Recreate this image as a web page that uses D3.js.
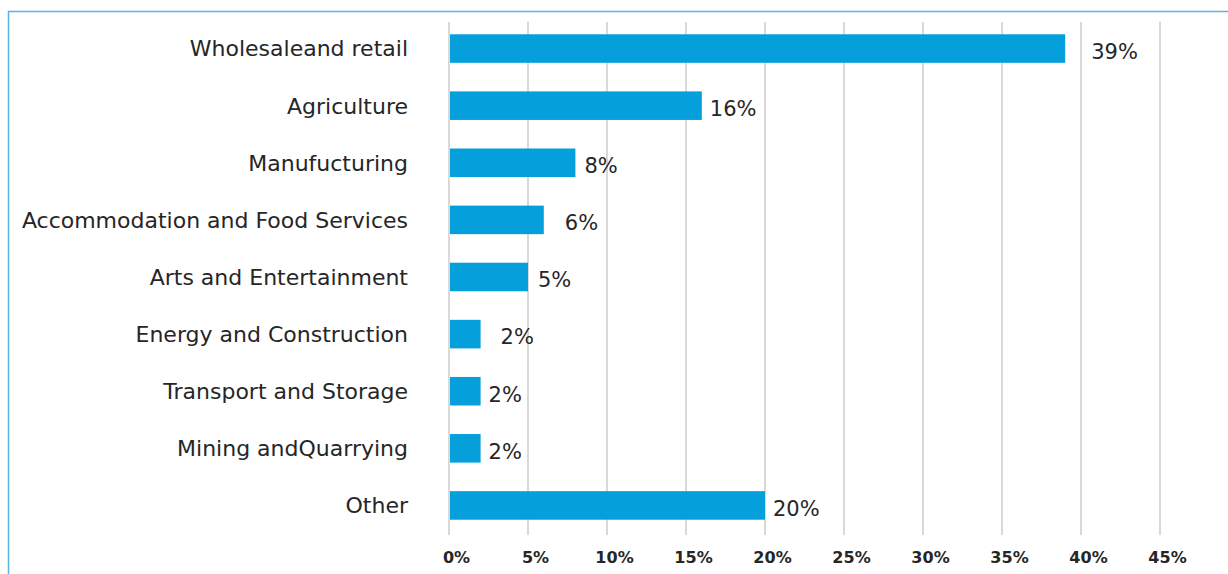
<!DOCTYPE html>
<html>
<head>
<meta charset="utf-8">
<script src="https://cdn.jsdelivr.net/npm/d3@7"></script>
<style>
  html, body { margin: 0; padding: 0; background: #fff; }
  svg { display: block; }
</style>
</head>
<body>
<svg id="chart" width="1228" height="574"></svg>
<script>
// Share of businesses by sector (%)
const categories = [
  "Wholesaleand retail",
  "Agriculture",
  "Manufucturing",
  "Accommodation and Food Services",
  "Arts and Entertainment",
  "Energy and Construction",
  "Transport and Storage",
  "Mining andQuarrying",
  "Other"
];
const values = [39, 16, 8, 6, 5, 2, 2, 2, 20];
const tickValues = [0, 5, 10, 15, 20, 25, 30, 35, 40, 45];

// small horizontal nudges for the value labels (px)
const labelNudge = [18, 0, 1, 13, 2, 12, 0, 0, 0];

const FONT = "'DejaVu Sans', sans-serif";
const svg = d3.select("#chart");

const x = d3.scaleLinear().domain([0, 45]).range([449, 1160]);
const y = d3.scaleBand()
  .domain(categories)
  .range([20, 534])
  .paddingInner(0.5)
  .paddingOuter(0.25);

// frame (top and left edges)
svg.append("line").attr("x1", 8).attr("x2", 1228).attr("y1", 11.5).attr("y2", 11.5)
  .attr("stroke", "#5ab4e2").attr("stroke-width", 1.5);
svg.append("line").attr("x1", 8.5).attr("x2", 8.5).attr("y1", 11).attr("y2", 574)
  .attr("stroke", "#5ab4e2").attr("stroke-width", 1.5);

// vertical gridlines
svg.append("g")
  .selectAll("line")
  .data(tickValues)
  .join("line")
  .attr("x1", d => x(d)).attr("x2", d => x(d))
  .attr("y1", 22).attr("y2", 535)
  .attr("stroke", "#d9d9d9")
  .attr("stroke-width", 2);

// bars
svg.append("g")
  .selectAll("rect")
  .data(values)
  .join("rect")
  .attr("x", x(0) + 1)
  .attr("y", (d, i) => y(categories[i]))
  .attr("width", d => x(d) - x(0) - 1)
  .attr("height", y.bandwidth())
  .attr("fill", "#059fdb");

// value labels
svg.append("g")
  .selectAll("text")
  .data(values)
  .join("text")
  .attr("x", (d, i) => x(d) + 8 + labelNudge[i])
  .attr("y", (d, i) => y(categories[i]) + y.bandwidth() / 2 + 3)
  .attr("dy", "0.35em")
  .attr("font-family", FONT)
  .attr("font-size", 21)
  .attr("fill", "#262626")
  .text(d => d3.format(".0f")(d) + "%");

// category axis
const yAxis = svg.append("g")
  .attr("transform", "translate(408,0)")
  .call(d3.axisLeft(y).tickSize(0).tickPadding(0));
yAxis.select(".domain").remove();
yAxis.selectAll("text")
  .attr("font-family", FONT)
  .attr("font-size", 22)
  .attr("fill", "#262626")
  .attr("dy", "0.36em");

// value axis
const xAxis = svg.append("g")
  .attr("transform", "translate(7,552)")
  .call(d3.axisBottom(x).tickValues(tickValues).tickSize(0).tickPadding(0)
    .tickFormat(d => d + "%"));
xAxis.select(".domain").remove();
xAxis.selectAll("text")
  .attr("font-family", FONT)
  .attr("font-size", 16)
  .attr("font-weight", "bold")
  .attr("fill", "#262626")
  .attr("dy", "0.71em");
</script>
</body>
</html>
